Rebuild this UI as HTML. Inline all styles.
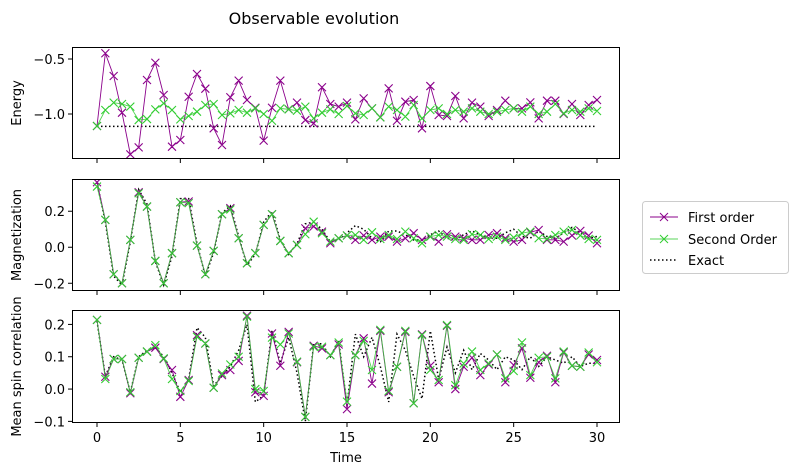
<!DOCTYPE html>
<html><head><meta charset="utf-8"><style>
html,body{margin:0;padding:0;background:#fff;}
svg{display:block;font-family:"DejaVu Sans","Liberation Sans",sans-serif;}
</style></head><body>
<svg id="chart" width="796" height="475" viewBox="0 0 796 475" xmlns="http://www.w3.org/2000/svg">
<rect width="796" height="475" fill="#fff"/>
<text x="314" y="24" font-size="16" text-anchor="middle" fill="#000">Observable evolution</text>
<g id="plots"></g>
<g>
<rect x="642.5" y="201.5" width="146" height="72" rx="3" fill="#fff" stroke="#ccc"/>
<g>
<line x1="650" y1="217" x2="678" y2="217" stroke="#8b008b" stroke-width="1"/>
<path d="M660,213 l8,8 M668,213 l-8,8" stroke="#8b008b" stroke-width="1"/>
<text x="688" y="222" font-size="13">First order</text></g>
<g>
<line x1="650" y1="239" x2="678" y2="239" stroke="#32cd32" stroke-width="1" opacity="0.8"/>
<path d="M660,235 l8,8 M668,235 l-8,8" stroke="#32cd32" stroke-width="1"/>
<text x="688" y="244" font-size="13">Second Order</text></g>
<g>
<line x1="650" y1="260" x2="678" y2="260" stroke="#000" stroke-width="1.5" stroke-dasharray="1.5,2.5"/>
<text x="688" y="265" font-size="13">Exact</text></g>
</g>
<text x="346" y="462" font-size="13" text-anchor="middle">Time</text>
</svg>
<script>
const times = Array.from({length:61},(_, i)=>i*0.5);
const xTicks = [0,5,10,15,20,25,30];
const energyFirst = [-1.109,-0.448,-0.655,-0.988,-1.367,-1.303,-0.691,-0.534,-0.827,-1.297,-1.236,-0.843,-0.636,-0.770,-1.130,-1.282,-0.848,-0.697,-0.873,-0.943,-1.242,-0.943,-0.697,-0.957,-0.897,-1.055,-1.085,-0.757,-0.909,-0.933,-0.897,
-1.049,-0.858,-0.949,-1.030,-0.767,-1.061,-0.888,-0.873,-1.130,-0.746,-1.009,-1.018,-0.836,-1.040,-0.897,-0.933,-1.018,-0.964,-0.879,-0.949,-0.949,-0.894,-1.040,-0.879,-0.879,-1.000,-0.909,-1.009,-0.918,-0.873];
const energySecond = [-1.109,-0.964,-0.897,-0.909,-0.933,-1.055,-1.046,-0.958,-0.903,-0.964,-1.049,-1.018,-0.979,-0.918,-0.909,-1.009,-0.994,-0.964,-0.988,-0.949,-1.0,-1.061,-0.949,-0.958,-0.970,-0.933,-1.040,-0.988,-0.958,-1.0,-0.927,
-0.994,-1.009,-0.949,-1.030,-0.933,-0.964,-1.024,-0.918,-1.040,-0.964,-0.949,-1.0,-0.964,-0.979,-0.949,-0.979,-1.0,-0.979,-0.964,-0.949,-0.979,-0.933,-1.0,-0.979,-0.909,-0.994,-0.964,-0.979,-0.949,-0.973];
const energyExact = times.map(()=> -1.112);
const magFirst = [0.361,0.152,-0.150,-0.200,0.041,0.305,0.226,-0.076,-0.200,-0.033,0.250,0.254,0.009,-0.150,-0.020,0.183,0.217,0.050,-0.089,-0.033,0.124,0.183,0.035,-0.033,0.013,0.105,0.115,0.087,0.022,0.050,0.065,
0.041,0.065,0.041,0.059,0.059,0.031,0.050,0.078,0.041,0.059,0.031,0.072,0.059,0.050,0.041,0.041,0.068,0.078,0.050,0.031,0.041,0.083,0.096,0.041,0.041,0.031,0.065,0.091,0.065,0.022];
const magSecond = [0.337,0.152,-0.150,-0.200,0.041,0.300,0.226,-0.076,-0.200,-0.033,0.250,0.245,0.009,-0.150,-0.020,0.183,0.210,0.050,-0.089,-0.033,0.124,0.183,0.035,-0.033,0.013,0.072,0.142,0.078,0.031,0.050,0.065,
0.068,0.041,0.083,0.046,0.068,0.046,0.087,0.050,0.022,0.059,0.068,0.059,0.046,0.041,0.072,0.068,0.046,0.059,0.041,0.054,0.078,0.087,0.050,0.046,0.068,0.087,0.096,0.065,0.046,0.041];
const magExact = [0.36,0.14,-0.16,-0.21,0.03,0.32,0.24,-0.08,-0.21,-0.05,0.27,0.27,0.02,-0.16,-0.03,0.19,0.23,0.06,-0.10,-0.04,0.14,0.20,0.04,-0.04,0.02,0.13,0.14,0.10,0.03,0.04,0.08,
0.12,0.10,0.05,0.03,0.09,0.09,0.07,0.04,0.04,0.07,0.09,0.05,0.04,0.07,0.09,0.07,0.05,0.05,0.08,0.10,0.06,0.05,0.09,0.06,0.05,0.08,0.11,0.08,0.05,0.06];
const corrFirst = [0.214,0.038,0.093,0.093,-0.013,0.097,0.116,0.128,0.093,0.059,-0.024,0.028,0.167,0.141,0.004,0.043,0.059,0.087,0.227,-0.010,-0.021,0.172,0.072,0.177,0.083,-0.086,0.134,0.126,0.105,0.138,-0.062,
0.105,0.157,0.017,0.180,-0.010,0.069,0.177,-0.044,0.169,0.072,0.021,0.196,0.0,0.069,0.097,0.043,0.076,0.107,0.021,0.074,0.126,0.035,0.083,0.103,0.021,0.113,0.072,0.069,0.107,0.090];
const corrSecond = [0.214,0.031,0.093,0.093,-0.010,0.097,0.116,0.136,0.095,0.031,-0.006,0.025,0.162,0.141,0.004,0.048,0.076,0.100,0.224,0.0,-0.006,0.159,0.138,0.172,0.085,-0.086,0.131,0.131,0.105,0.144,-0.039,
0.105,0.149,0.059,0.183,-0.006,0.069,0.180,-0.044,0.167,0.059,0.028,0.198,0.012,0.079,0.116,0.059,0.079,0.107,0.033,0.056,0.144,0.043,0.097,0.100,0.033,0.116,0.072,0.069,0.113,0.083];
const corrExact = [0.21,0.04,0.10,0.09,-0.01,0.10,0.12,0.13,0.10,0.05,-0.01,0.03,0.19,0.16,0.01,0.04,0.07,0.12,0.20,-0.04,-0.02,0.18,0.08,0.16,0.05,-0.10,0.14,0.14,0.10,0.15,-0.05,
0.17,0.10,0.16,0.07,-0.04,0.17,0.12,0.04,-0.03,0.18,0.03,0.13,0.05,0.12,0.06,0.11,0.09,0.06,0.10,0.09,0.06,0.10,0.07,0.10,0.09,0.08,0.10,0.07,0.08,0.08];
const energyTicks = [-0.5,-1.0];
const magTicks = [0.2,0.0,-0.2];
const corrTicks = [0.2,0.1,0.0,-0.1];

const NS='http://www.w3.org/2000/svg';
const root=document.getElementById('plots');
const L=72,R=620;
const xs = t => 97 + (t-0)*(500/30);
function el(tag,attrs,parent){const e=document.createElementNS(NS,tag);for(const k in attrs)e.setAttribute(k,attrs[k]);(parent||root).appendChild(e);return e;}
function fmt(v,d){const s=v.toFixed(d);return s.startsWith('-')?'\u2212'+s.slice(1):s;}
function panel(name,top,bot,ymin,ymax,ticks,dec,ylabel,first,second,exact,showX){
  const g=el('g',{});
  
  
  const ys=v=>bot-(v-ymin)/(ymax-ymin)*(bot-top);
  const clip='clip-'+name;
  const cp=el('clipPath',{id:clip},g);el('rect',{x:L,y:top,width:R-L,height:bot-top},cp);
  const ex=el('polyline',{points:times.map((t,i)=>xs(t)+','+ys(exact[i])).join(' '),fill:'none',stroke:'#000','stroke-width':1.5,'stroke-dasharray':'1.5,2.5','clip-path':'url(#'+clip+')'},g);
  
  
  [[first,'#8b008b','first-order',1],[second,'#32cd32','second-order',0.85]].forEach(([arr,c,nm,op])=>{
    const sg=el('g',{'clip-path':'url(#'+clip+')'},g);
    
    
    el('polyline',{points:times.map((t,i)=>xs(t)+','+ys(arr[i])).join(' '),fill:'none',stroke:c,'stroke-width':0.9,opacity:op},sg);
    let d='';times.forEach((t,i)=>{const x=xs(t),y=ys(arr[i]);d+=`M${x-4},${y-4}l8,8M${x+4},${y-4}l-8,8`;});
    const m=el('path',{d:d,stroke:c,'stroke-width':1.1,fill:'none'},sg);
    
    
  });
  const fr=el('rect',{x:L+0.5,y:top+0.5,width:R-L-1,height:bot-top-1,fill:'none',stroke:'#000','stroke-width':1},g);
  
  
  ticks.forEach(v=>{const y=ys(v);el('line',{x1:L-4,x2:L,y1:y,y2:y,stroke:'#000'},g);
    const tx=el('text',{x:L-7,y:y+5,'font-size':13,'text-anchor':'end'},g);tx.textContent=fmt(v,1);
    
    });
  xTicks.forEach(t=>{el('line',{x1:xs(t),x2:xs(t),y1:bot,y2:bot+4,stroke:'#000'},g);
    if(showX){const tx=el('text',{x:xs(t),y:bot+19,'font-size':13,'text-anchor':'middle'},g);tx.textContent=t;
    
    }});
  const yl=el('text',{x:0,y:0,'font-size':13,'text-anchor':'middle',transform:`translate(21,${(top+bot)/2}) rotate(-90)`},g);
  yl.textContent=ylabel;
  
  
}
panel('energy',47,159,-1.409,-0.391,energyTicks,1,'Energy',energyFirst,energySecond,energyExact,false);
panel('magnetization',179,291,-0.243,0.379,magTicks,1,'Magnetization',magFirst,magSecond,magExact,false);
panel('correlation',310,423,-0.105,0.2446,corrTicks,1,'Mean spin correlation',corrFirst,corrSecond,corrExact,true);
</script>
</body></html>
